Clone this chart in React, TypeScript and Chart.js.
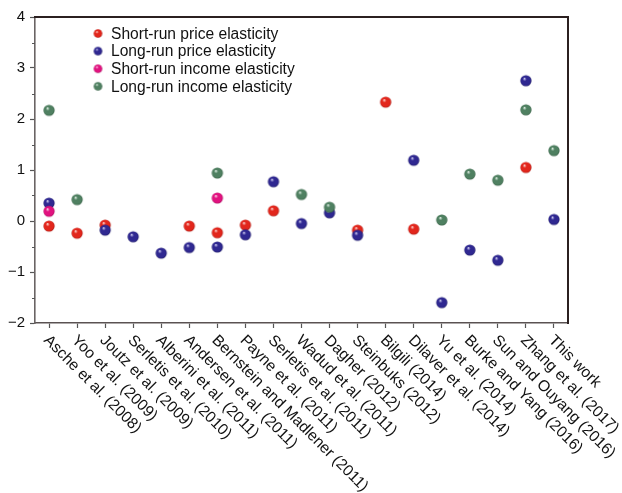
import React, { useEffect, useRef } from "react";
import { Chart, registerables } from "chart.js";

Chart.register(...registerables);

const categories = [
  "Asche et al. (2008)",
  "Yoo et al. (2009)",
  "Joutz et al. (2009)",
  "Serletis et al. (2010)",
  "Alberini et al. (2011)",
  "Andersen et al. (2011)",
  "Bernstein and Madlener (2011)",
  "Payne et al. (2011)",
  "Serletis et al. (2011)",
  "Wadud et al. (2011)",
  "Dagher (2012)",
  "Steinbuks (2012)",
  "Bilgili (2014)",
  "Dilaver et al. (2014)",
  "Yu et al. (2014)",
  "Burke and Yang (2016)",
  "Sun and Ouyang (2016)",
  "Zhang et al. (2017)",
  "This work",
];

const shortRunPrice = [-0.1, -0.24, -0.08, null, null, -0.1, -0.23, -0.08, 0.2, null, null, -0.18, 2.33, -0.16, null, null, null, 1.05, null];
const longRunPrice = [0.35, null, -0.18, -0.31, -0.63, -0.52, -0.51, -0.27, 0.77, -0.05, 0.16, -0.28, null, 1.19, -1.6, -0.57, -0.77, 2.75, 0.03];
const shortRunIncome = [0.19, null, null, null, null, null, 0.45, null, null, null, null, null, null, null, null, null, null, null, null];
const longRunIncome = [2.17, 0.42, null, null, null, null, 0.94, null, null, 0.52, 0.27, null, null, null, 0.02, 0.92, 0.8, 2.18, 1.38];

const seriesLabels = [
  "Short-run price elasticity",
  "Long-run price elasticity",
  "Short-run income elasticity",
  "Long-run income elasticity",
];

const yTicks = [-2, -1, 0, 1, 2, 3, 4];

const FONT = '"Liberation Sans", Arial, Helvetica, sans-serif';

const colors = [
  { base: "#e2261c", light: "#f7a39b", dark: "#9e140e" },
  { base: "#2f2891", light: "#9e9ad8", dark: "#17135c" },
  { base: "#e1127f", light: "#f79acb", dark: "#9c0b57" },
  { base: "#4f8061", light: "#b5d1be", dark: "#2c553a" },
];

function makeSphere(r: number, c: { base: string; light: string; dark: string }) {
  const size = Math.ceil(r * 2 + 2);
  const cv = document.createElement("canvas");
  cv.width = size;
  cv.height = size;
  const ctx = cv.getContext("2d")!;
  const cx = size / 2;
  const cy = size / 2;
  const g = ctx.createRadialGradient(cx - r * 0.3, cy - r * 0.4, r * 0.02, cx, cy, r * 1.05);
  g.addColorStop(0, "#ffffff");
  g.addColorStop(0.1, c.light);
  g.addColorStop(0.32, c.base);
  g.addColorStop(0.8, c.base);
  g.addColorStop(1, c.dark);
  ctx.beginPath();
  ctx.arc(cx, cy, r, 0, Math.PI * 2);
  ctx.fillStyle = g;
  ctx.fill();
  return cv;
}

export default function App() {
  const ref = useRef<HTMLCanvasElement | null>(null);

  useEffect(() => {
    if (!ref.current) return;
    const spheres = colors.map((c) => makeSphere(5.6, c));
    const legendSpheres = colors.map((c) => makeSphere(4.3, c));

    const frame = {
      id: "frame",
      afterDraw(chart: any) {
        const { ctx, chartArea: a, scales } = chart;
        const ys = scales.y;
        ctx.save();
        // top & right border
        ctx.strokeStyle = "#2b2020";
        ctx.lineWidth = 2;
        ctx.beginPath();
        ctx.moveTo(a.left - 1, a.top);
        ctx.lineTo(a.right, a.top);
        ctx.lineTo(a.right, a.bottom + 1);
        ctx.stroke();
        // minor ticks
        ctx.strokeStyle = "#555";
        ctx.lineWidth = 1;
        for (let v = -1.5; v < 4; v += 1) {
          const y = Math.round(ys.getPixelForValue(v)) + 0.5;
          ctx.beginPath();
          ctx.moveTo(a.left - 3, y);
          ctx.lineTo(a.left, y);
          ctx.stroke();
        }
        // x labels
        const xs = scales.x;
        ctx.fillStyle = "#111";
        ctx.font = `15.6px ${FONT}`;
        ctx.textAlign = "left";
        ctx.textBaseline = "alphabetic";
        categories.forEach((lab, i) => {
          const x = xs.getPixelForValue(i);
          ctx.save();
          ctx.translate(x - 6, a.bottom + 18);
          ctx.rotate(Math.PI / 4);
          ctx.fillText(lab, 0, 0);
          ctx.restore();
        });
        // legend
        ctx.font = `15.6px ${FONT}`;
        ctx.textBaseline = "middle";
        seriesLabels.forEach((lab, i) => {
          const y = 33.5 + i * 17.6;
          const s = legendSpheres[i];
          ctx.drawImage(s, 98 - s.width / 2, y - s.height / 2);
          ctx.fillText(lab, 111, y + 1);
        });
        ctx.restore();
      },
    };

    const series = [shortRunPrice, longRunPrice, shortRunIncome, longRunIncome];
    const chart = new Chart(ref.current, {
      type: "line",
      data: {
        labels: categories,
        datasets: series.map((d, i) => ({
          label: seriesLabels[i],
          data: d,
          showLine: false,
          pointStyle: spheres[i],
          pointRadius: 6,
          pointHoverRadius: 6,
          order: 4 - i,
        })),
      },
      options: {
        responsive: false,
        animation: false,
        events: [],
        layout: { padding: { top: 17, right: 54, left: 0, bottom: 0 } },
        plugins: {
          legend: { display: false },
          tooltip: { enabled: false },
        },
        scales: {
          x: {
            type: "category",
            offset: true,
            grid: {
              offset: false,
              drawOnChartArea: false,
              drawTicks: true,
              tickLength: 5,
              tickColor: "#555",
              tickWidth: 1.2,
            },
            border: { display: true, color: "#5a5252", width: 1.6 },
            ticks: { display: false },
            afterFit(scale: any) {
              scale.height = 170;
            },
          },
          y: {
            min: -2,
            max: 4,
            afterBuildTicks(scale: any) {
              scale.ticks = yTicks.map((v) => ({ value: v }));
            },
            grid: {
              drawOnChartArea: false,
              tickLength: 5,
              tickColor: "#555",
              tickWidth: 1.2,
            },
            border: { display: true, color: "#6a6464", width: 1.6 },
            ticks: {
              color: "#111",
              font: { family: FONT, size: 15 },
              padding: 5,
              callback: (v: any) => (Number(v) < 0 ? "\u2212" + Math.abs(Number(v)) : String(v)),
            },
            afterFit(scale: any) {
              scale.width = 35;
            },
          },
        },
      },
      plugins: [frame],
    });
    return () => chart.destroy();
  }, []);

  return (
    <div style={{ position: "absolute", left: 0, top: 0, width: 622, height: 493, background: "#fff" }}>
      <canvas ref={ref} width={622} height={493} />
    </div>
  );
}
